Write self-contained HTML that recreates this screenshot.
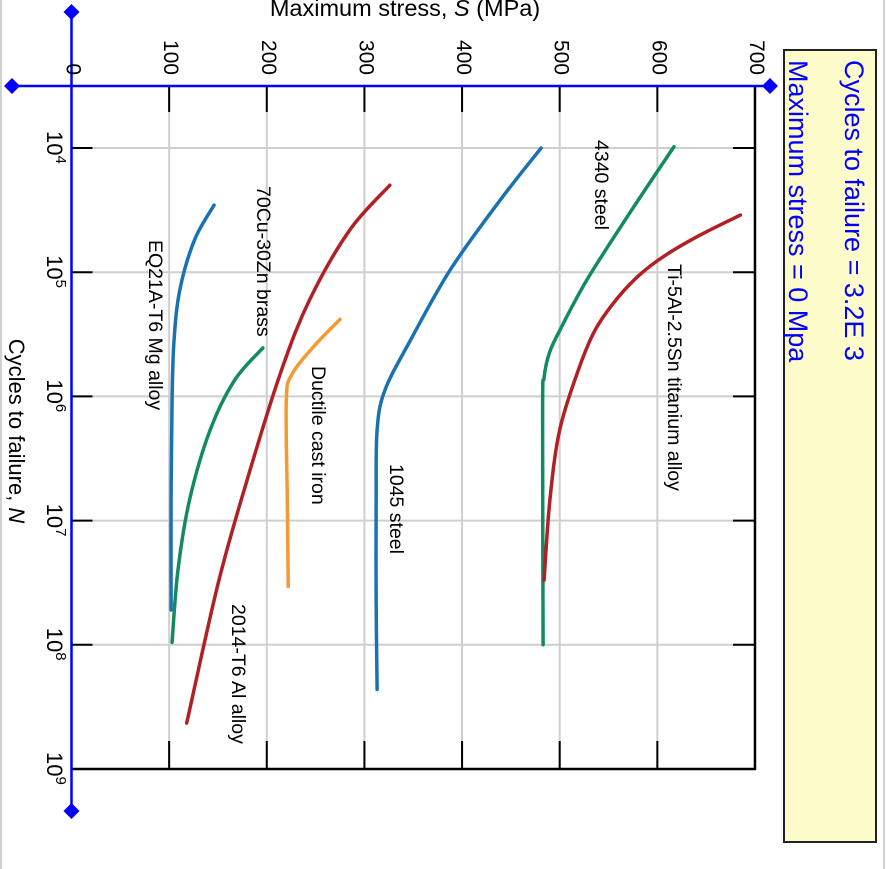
<!DOCTYPE html>
<html><head><meta charset="utf-8"><style>
html,body{margin:0;padding:0;background:#fff;}
svg{display:block;font-family:"Liberation Sans",Arial,sans-serif;}
</style></head><body>
<svg id="chart" width="886" height="869" viewBox="0 0 886 869">
<rect x="0" y="0" width="886" height="869" fill="#fff"/>
<line x1="1" y1="0" x2="1" y2="869" stroke="#d0d0d0" stroke-width="2"/>
<line x1="884" y1="0" x2="884" y2="869" stroke="#d0d0d0" stroke-width="2"/>
<g id="grid"></g>
<g id="series"></g>
<g id="axes"></g>
<g id="labels"></g>
<rect x="784" y="50" width="92" height="792" fill="#fffccc" stroke="#222" stroke-width="2"/>
<text transform="translate(845,60) rotate(90)" font-size="27" fill="#0000ff">Cycles to failure = 3.2E 3</text>
<text transform="translate(789,60) rotate(90)" font-size="27" fill="#0000ff">Maximum stress = 0 Mpa</text>
</svg>
<script>
const stressTicks = [0,100,200,300,400,500,600,700];
const cycleExps = [4,5,6,7,8,9];
const seriesNames = ["EQ21A-T6 Mg alloy","70Cu-30Zn brass","2014-T6 Al alloy","Ductile cast iron","1045 steel","4340 steel","Ti-5Al-2.5Sn titanium alloy"];
const mgS = [146,126,111,105,103,102,102];
const mgN = [4.46,4.74,5.14,5.55,6.03,6.83,7.72];
const brassS = [196,167,142,121,109,103];
const brassN = [5.61,5.87,6.27,6.83,7.40,7.98];
const alS = [326,285,244,215,183,151,118];
const alN = [4.30,4.66,5.22,5.79,6.59,7.48,8.63];
const ironS = [275,249,226,220,221,222];
const ironN = [5.38,5.59,5.82,6.03,6.83,7.53];
const s1045S = [481,439,388,347,321,313,312,312,313];
const s1045N = [4.0,4.42,4.98,5.55,5.95,6.27,6.83,7.64,8.36];
const s4340S = [617,572,528,500,489,484,482.5,483];
const s4340N = [3.99,4.52,5.06,5.47,5.66,5.85,6.1,8.0];
const tiS = [685,644,609,582,558,536,519,500,490,484];
const tiN = [4.54,4.70,4.86,5.02,5.22,5.47,5.79,6.27,6.83,7.48];

const NS='http://www.w3.org/2000/svg';
const X0=71.5, XS=97.64/100, Y4=148, YD=124.2;
function sx(s){return X0+s*XS;}
function ny(e){return Y4+(e-4)*YD;}
function el(tag,attrs,parent){const e=document.createElementNS(NS,tag);for(const k in attrs)e.setAttribute(k,attrs[k]);parent.appendChild(e);return e;}
const gGrid=document.getElementById('grid'),gAxes=document.getElementById('axes'),gSeries=document.getElementById('series'),gLabels=document.getElementById('labels');
const topY=86,bottomY=ny(9),rightX=sx(700);
stressTicks.forEach(s=>{
  if(s>0&&s<700){const g=el('line',{x1:sx(s),y1:topY,x2:sx(s),y2:bottomY,stroke:'#cfcfcf','stroke-width':2},gGrid);
  
  }
  if(s>0){const t1=el('line',{x1:sx(s),y1:topY,x2:sx(s),y2:topY+26,stroke:'#000','stroke-width':2},gAxes);
  
  
  const t2=el('line',{x1:sx(s),y1:bottomY-28,x2:sx(s),y2:bottomY,stroke:'#000','stroke-width':2},gAxes);
  
  }
  const tx=el('text',{transform:'translate('+(sx(s)-5)+',75) rotate(90)','font-size':21,'text-anchor':'end',fill:'#000'},gLabels);
  tx.textContent=s;
  
  
});
cycleExps.forEach(e=>{
  const y=ny(e);
  if(e<9){const g=el('line',{x1:X0,y1:y,x2:rightX,y2:y,stroke:'#cfcfcf','stroke-width':2},gGrid);
  
  
  const t1=el('line',{x1:X0,y1:y,x2:X0+21,y2:y,stroke:'#000','stroke-width':2},gAxes);
  
  
  const t2=el('line',{x1:rightX-22,y1:y,x2:rightX,y2:y,stroke:'#000','stroke-width':2},gAxes);
  
  }
  const tx=el('text',{transform:'translate(47,'+(y-17)+') rotate(90)','font-size':22,fill:'#000'},gLabels);
  
  
  const a=el('tspan',{},tx);a.textContent='10';
  const b=el('tspan',{'font-size':15,dy:-9},tx);b.textContent=e;
});
const fr=el('polyline',{points:`${rightX},${topY} ${rightX},${bottomY} ${X0},${bottomY}`,fill:'none',stroke:'#000','stroke-width':2.5},gAxes);


const ax1=el('line',{x1:12,y1:topY,x2:770,y2:topY,stroke:'#0000ff','stroke-width':2.5},gAxes);


const ax2=el('line',{x1:X0,y1:12,x2:X0,y2:811,stroke:'#0000ff','stroke-width':2.5},gAxes);


[[12,topY,'left'],[770,topY,'right'],[X0,12,'top'],[X0,811,'bottom']].forEach(d=>{
  const p=el('path',{d:`M${d[0]-8},${d[1]} L${d[0]},${d[1]-8} L${d[0]+8},${d[1]} L${d[0]},${d[1]+8}Z`,fill:'#0000ff'},gAxes);
  
  
});
function curve(S,N,color,name){
  const p=S.map((s,i)=>[sx(s),ny(N[i])]);
  let d='M'+p[0][0]+','+p[0][1];
  for(let i=0;i<p.length-1;i++){
    const p0=p[i-1]||p[i],p1=p[i],p2=p[i+1],p3=p[i+2]||p2;
    const c1=[p1[0]+(p2[0]-p0[0])/6,p1[1]+(p2[1]-p0[1])/6];
    const c2=[p2[0]-(p3[0]-p1[0])/6,p2[1]-(p3[1]-p1[1])/6];
    d+=` C${c1[0]},${c1[1]} ${c2[0]},${c2[1]} ${p2[0]},${p2[1]}`;
  }
  const e=el('path',{d:d,fill:'none',stroke:color,'stroke-width':3.5,'stroke-linecap':'round'},gSeries);
  
  
}
curve(mgS,mgN,'#1a72b0','curve-mg-alloy');
curve(brassS,brassN,'#138a62','curve-brass');
curve(alS,alN,'#b02024','curve-al-alloy');
curve(ironS,ironN,'#f59a30','curve-cast-iron');
curve(s1045S,s1045N,'#1a72b0','curve-1045-steel');
curve(s4340S,s4340N,'#138a62','curve-4340-steel');
curve(tiS,tiN,'#b02024','curve-ti-alloy');
const lbl=[[0,149,240,'label-mg-alloy'],[1,257,186,'label-brass'],[2,232,604,'label-al-alloy'],[3,312,366,'label-cast-iron'],[4,390,464,'label-1045-steel'],[5,595,140,'label-4340-steel'],[6,668,264,'label-ti-alloy']];
lbl.forEach(l=>{
  const t=el('text',{transform:`translate(${l[1]},${l[2]}) rotate(90)`,'font-size':19.5,fill:'#000'},gLabels);
  t.textContent=seriesNames[l[0]];
  
  
});
const xt=el('text',{x:405,y:16,'font-size':23.5,'text-anchor':'middle',fill:'#000'},gLabels);


xt.innerHTML='Maximum stress, <tspan font-style="italic">S</tspan> (MPa)';
const yt=el('text',{transform:'translate(9,431) rotate(90)','font-size':22,'text-anchor':'middle',fill:'#000'},gLabels);


yt.innerHTML='Cycles to failure, <tspan font-style="italic">N</tspan>';
</script>
</body></html>
